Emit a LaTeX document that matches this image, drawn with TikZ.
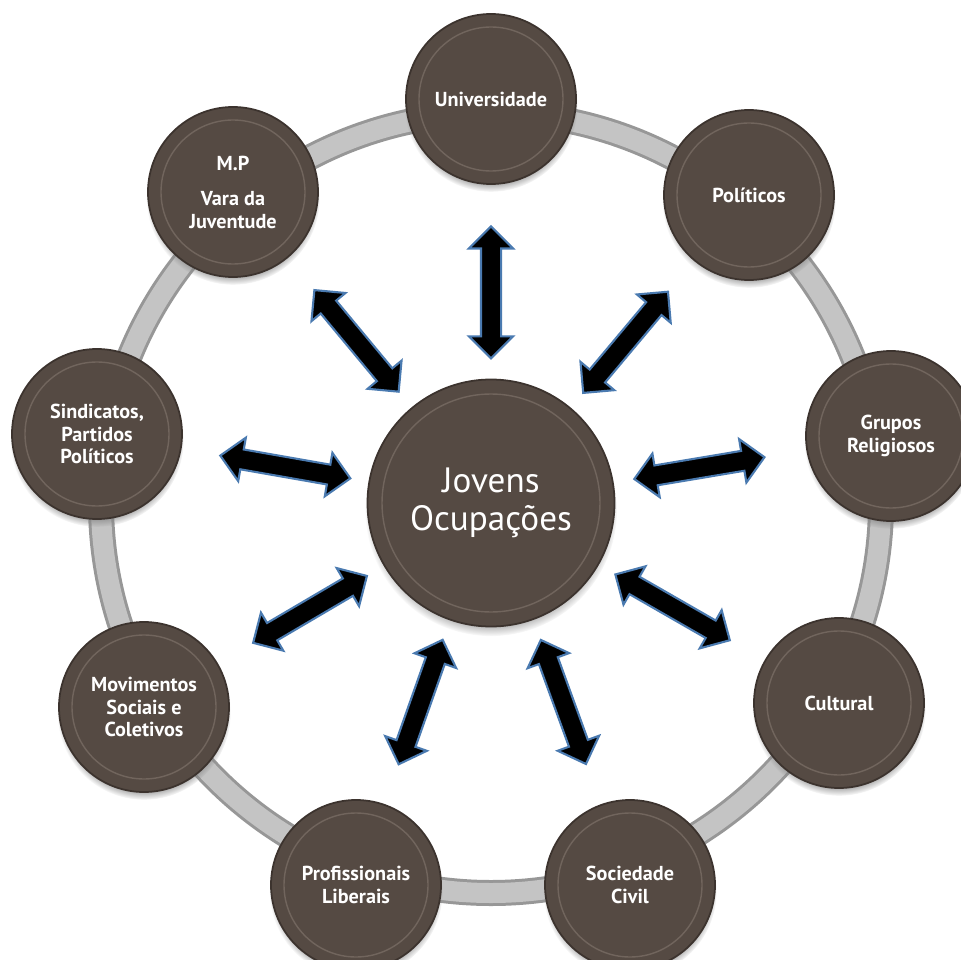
\documentclass[tikz,border=0pt]{standalone}
\usepackage{fontspec}
\setmainfont{PT Sans}
\usetikzlibrary{shapes.arrows,shadows}
\definecolor{bean}{HTML}{554A43}
\definecolor{beanrim}{HTML}{3C332E}
\definecolor{beanlight}{HTML}{71655D}
\definecolor{linkblue}{HTML}{4A7AB0}
\definecolor{ringgray}{HTML}{C4C4C4}
\definecolor{ringedge}{HTML}{979797}
\tikzset{
	hub/.style={circle, fill=bean, draw=beanrim, line width=1pt, minimum size=49.4mm, inner sep=0pt,
		text=white, align=center, font=\fontsize{20}{21.6}\selectfont,
		circular drop shadow={shadow xshift=0mm, shadow yshift=-1.4mm, shadow scale=1.02},
		path picture={\draw[beanlight, line width=0.8pt] (path picture bounding box.center) circle[radius=21.8mm];}},
	member/.style={circle, fill=bean, draw=beanrim, line width=1pt, minimum size=34mm, inner sep=0pt,
		text=white, align=center, font=\fontsize{11.5}{13}\selectfont\bfseries,
		circular drop shadow={shadow xshift=0mm, shadow yshift=-1.2mm, shadow scale=1.02},
		path picture={\draw[beanlight, line width=0.8pt] (path picture bounding box.center) circle[radius=14.4mm];}},
	link/.style={double arrow, fill=black, draw=linkblue, line width=1.2pt, minimum height=26.4mm,
		double arrow head extend=2.4mm, inner xsep=0pt, inner ysep=1.8mm, sloped, pos=0.445, allow upside down}
}
\begin{document}
\begin{tikzpicture}[x=0.2mm, y=-0.2mm]
		\useasboundingbox (0,0) rectangle (961,960);
		% ring behind the circles
		\coordinate (mid) at (491,503);
		\draw[ringedge, line width=5.2mm] (mid) circle[radius=78mm];
		\draw[ringgray, line width=4mm] (mid) circle[radius=78mm];
		\node (jo) [hub] at (mid) {Jovens\\Ocupações};
		\node (uni) [member] at (491,99) {Universidade};
		\node (pol) [member] at (749,195) {Políticos};
		\node (rel) [member] at (891,436) {Grupos\\Religiosos};
		\node (cul) [member] at (839,703) {Cultural};
		\node (soc) [member] at (630,885) {Sociedade\\Civil};
		\node (pro) [member] at (356,885) {Profissionais\\Liberais};
		\node (mov) [member] at (144,707) {Movimentos\\Sociais e\\Coletivos};
		\node (sin) [member] at (97,434) {Sindicatos,\\Partidos\\Políticos};
		\node (mp) [member] at (233,192) {M.P\\[7pt]Vara da\\Juventude};
		\path (jo) -- node[link] {} (uni);
		\path (jo) -- node[link] {} (pol);
		\path (jo) -- node[link] {} (rel);
		\path (jo) -- node[link] {} (cul);
		\path (jo) -- node[link] {} (soc);
		\path (jo) -- node[link] {} (pro);
		\path (jo) -- node[link] {} (mov);
		\path (jo) -- node[link] {} (sin);
		\path (jo) -- node[link] {} (mp);
\end{tikzpicture}
\end{document}
